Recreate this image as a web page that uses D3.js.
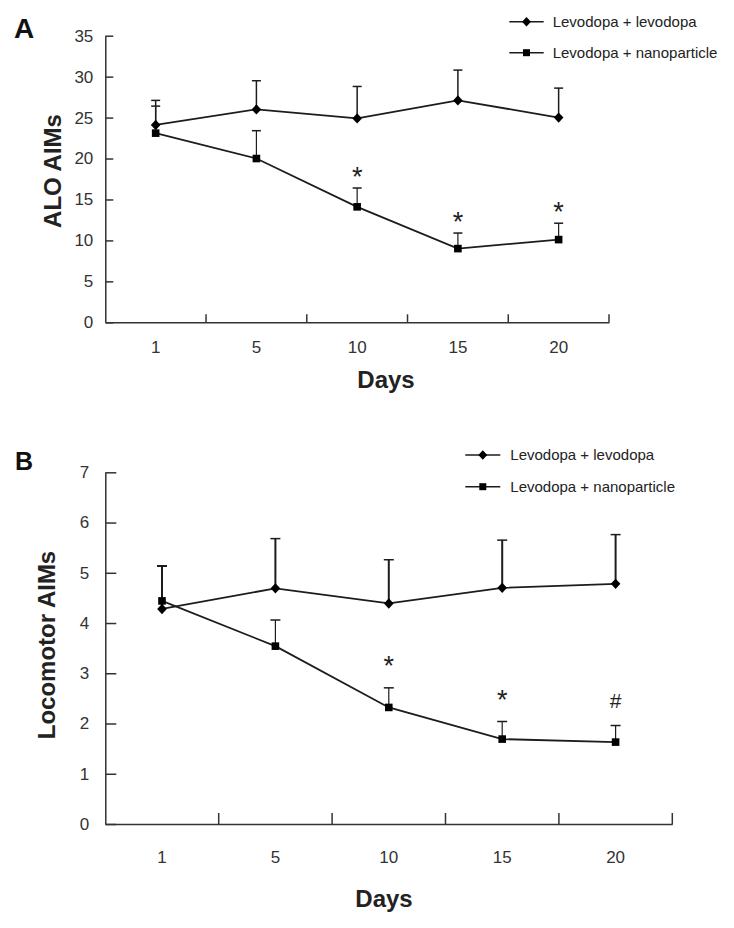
<!DOCTYPE html>
<html>
<head>
<meta charset="utf-8">
<script src="https://cdn.jsdelivr.net/npm/d3@7"></script>
<style>
  html, body { margin: 0; padding: 0; background: #fff; }
  svg { display: block; font-family: "Liberation Sans", Arial, sans-serif; }
</style>
</head>
<body>
<svg id="chart" width="734" height="928"></svg>
<script>
// ---------------- DATA ----------------
const days = ["1", "5", "10", "15", "20"];
const seriesNames = ["Levodopa + levodopa", "Levodopa + nanoparticle"];

// Panel A: ALO AIMs
const aloLevodopa = [24.1, 26.0, 24.9, 27.1, 25.0];
const aloLevodopaSD = [3.0, 3.5, 3.9, 3.7, 3.6];
const aloNano = [23.1, 20.0, 14.1, 9.0, 10.1];
const aloNanoSD = [3.3, 3.4, 2.3, 1.9, 2.0];
const aloSig = ["", "", "*", "*", "*"];
const aloTicks = [0, 5, 10, 15, 20, 25, 30, 35];

// Panel B: Locomotor AIMs
const locoLevodopa = [4.28, 4.69, 4.39, 4.70, 4.78];
const locoLevodopaSD = [0.85, 0.99, 0.87, 0.95, 0.98];
const locoNano = [4.44, 3.54, 2.32, 1.69, 1.63];
const locoNanoSD = [0.70, 0.52, 0.39, 0.35, 0.33];
const locoSig = ["", "", "*", "*", "#"];
const locoTicks = [0, 1, 2, 3, 4, 5, 6, 7];

// ---------------- DRAW ----------------
const svg = d3.select("#chart");
const ink = "#1c1c1c";
const axisInk = "#333";

const diamondPath = (w, h) => `M0,${-h} L${w},0 L0,${h} L${-w},0 Z`;
const squarePath = s => `M${-s},${-s} H${s} V${s} H${-s} Z`;

function drawPanel(cfg) {
  const g = svg.append("g");
  const x = d3.scaleBand().domain(days).range([cfg.left, cfg.right]).paddingInner(0).paddingOuter(0);
  const y = d3.scaleLinear().domain([cfg.ticks[0], cfg.ticks[cfg.ticks.length - 1]]).range([cfg.bottom, cfg.top]);
  const cx = d => x(d) + x.bandwidth() / 2;

  // Y axis
  const ya = g.append("g").attr("transform", `translate(${cfg.left},0)`)
    .call(d3.axisLeft(y).tickValues(cfg.ticks).tickFormat(d3.format("d"))
      .tickSizeInner(-cfg.tick).tickSizeOuter(0).tickPadding(cfg.yPad));
  ya.select(".domain").attr("stroke", axisInk).attr("stroke-width", 1.5);
  ya.selectAll(".tick line").attr("stroke", axisInk).attr("stroke-width", 1.5);
  ya.selectAll(".tick text").attr("fill", axisInk).attr("font-size", 17)
    .attr("font-family", "Liberation Sans, Arial, sans-serif");

  // X axis
  const xa = g.append("g").attr("transform", `translate(0,${cfg.bottom})`)
    .call(d3.axisBottom(x).tickSizeInner(0).tickSizeOuter(0));
  xa.select(".domain").attr("stroke", axisInk).attr("stroke-width", 1.5);
  xa.selectAll(".tick line").remove();
  xa.selectAll(".tick text").attr("fill", axisInk).attr("font-size", 17)
    .attr("font-family", "Liberation Sans, Arial, sans-serif")
    .attr("dy", null).attr("y", cfg.xLabelY);
  // boundary ticks (between categories, pointing up)
  xa.selectAll(".btick").data(days).enter().append("line")
    .attr("class", "btick")
    .attr("x1", d => x(d) + x.step()).attr("x2", d => x(d) + x.step())
    .attr("y1", 0).attr("y2", -cfg.tick)
    .attr("stroke", axisInk).attr("stroke-width", 1.5);

  // Titles
  g.append("text").attr("x", cfg.xTitleX).attr("y", cfg.xTitleY)
    .attr("text-anchor", "middle").attr("font-weight", "bold").attr("font-size", 24)
    .attr("fill", "#222").text("Days");
  g.append("text")
    .attr("transform", `translate(${cfg.yTitleX},${cfg.yTitleY}) rotate(-90)`)
    .attr("text-anchor", "middle").attr("font-weight", "bold").attr("font-size", 24)
    .attr("fill", "#222").text(cfg.yTitle);
  g.append("text").attr("x", cfg.letterX).attr("y", cfg.letterY)
    .attr("font-weight", "bold").attr("font-size", cfg.letterSize).attr("fill", "#111").text(cfg.letter);

  const series = [
    { vals: cfg.s1, sd: cfg.s1sd, shape: "diamond", ew: cfg.errW1 },
    { vals: cfg.s2, sd: cfg.s2sd, shape: "square", ew: cfg.errW2 }
  ];
  const line = d3.line().x((v, i) => cx(days[i])).y(v => y(v));

  series.forEach(s => {
    const eb = g.append("g");
    s.vals.forEach((v, i) => {
      const px = cx(days[i]);
      eb.append("line").attr("x1", px).attr("x2", px).attr("y1", y(v)).attr("y2", y(v + s.sd[i]))
        .attr("stroke", ink).attr("stroke-width", s.ew);
      eb.append("line").attr("x1", px - cfg.cap).attr("x2", px + cfg.cap)
        .attr("y1", y(v + s.sd[i])).attr("y2", y(v + s.sd[i]))
        .attr("stroke", ink).attr("stroke-width", 1.5);
    });
  });
  series.forEach(s => {
    g.append("path").datum(s.vals).attr("d", line).attr("fill", "none")
      .attr("stroke", ink).attr("stroke-width", 1.8);
    g.selectAll(null).data(s.vals).enter().append("path")
      .attr("transform", (v, i) => `translate(${cx(days[i])},${y(v)})`)
      .attr("d", s.shape === "diamond" ? diamondPath(4.8, 5.2) : squarePath(3.8))
      .attr("fill", "#000");
  });

  // significance marks above the nanoparticle error bars
  cfg.sig.forEach((m, i) => {
    if (!m) return;
    const capY = y(cfg.s2[i] + cfg.s2sd[i]);
    g.append("text").attr("x", cx(days[i])).attr("text-anchor", "middle")
      .attr("y", capY - (m === "#" ? cfg.hashOff : cfg.starOff))
      .attr("font-size", m === "#" ? 21 : 27).attr("fill", "#222").text(m);
  });

  // legend
  const lg = g.append("g");
  seriesNames.forEach((name, k) => {
    const ly = cfg.legY + k * cfg.legGap;
    lg.append("line").attr("x1", cfg.legX1).attr("x2", cfg.legX2).attr("y1", ly).attr("y2", ly)
      .attr("stroke", ink).attr("stroke-width", 1.6);
    lg.append("path").attr("transform", `translate(${(cfg.legX1 + cfg.legX2) / 2},${ly})`)
      .attr("d", k === 0 ? diamondPath(4.5, 4.8) : squarePath(3.5)).attr("fill", "#000");
    lg.append("text").attr("x", cfg.legText).attr("y", ly).attr("dy", "0.35em")
      .attr("font-size", 15).attr("fill", "#222").text(name);
  });
}

drawPanel({
  letter: "A", letterX: 14, letterY: 38, letterSize: 28,
  left: 105.3, right: 609, top: 35.7, bottom: 322.3,
  ticks: aloTicks, tick: 8, yPad: 12, xLabelY: 31,
  xTitleX: 386, xTitleY: 388,
  yTitle: "ALO AIMs", yTitleX: 61, yTitleY: 171,
  s1: aloLevodopa, s1sd: aloLevodopaSD, s2: aloNano, s2sd: aloNanoSD,
  errW1: 1.5, errW2: 1.2, cap: 4.5,
  sig: aloSig, starOff: 2, hashOff: 4,
  legX1: 509.3, legX2: 543.7, legText: 552.7, legY: 21.7, legGap: 31
});

drawPanel({
  letter: "B", letterX: 15, letterY: 470, letterSize: 25,
  left: 105.3, right: 672.3, top: 472.3, bottom: 824,
  ticks: locoTicks, tick: 11, yPad: 16, xLabelY: 39,
  xTitleX: 384, xTitleY: 907,
  yTitle: "Locomotor AIMs", yTitleX: 55, yTitleY: 645,
  s1: locoLevodopa, s1sd: locoLevodopaSD, s2: locoNano, s2sd: locoNanoSD,
  errW1: 2, errW2: 1.2, cap: 5,
  sig: locoSig, starOff: 13, hashOff: 18,
  legX1: 465.3, legX2: 500.3, legText: 510.3, legY: 455, legGap: 31.7
});
</script>
</body>
</html>
